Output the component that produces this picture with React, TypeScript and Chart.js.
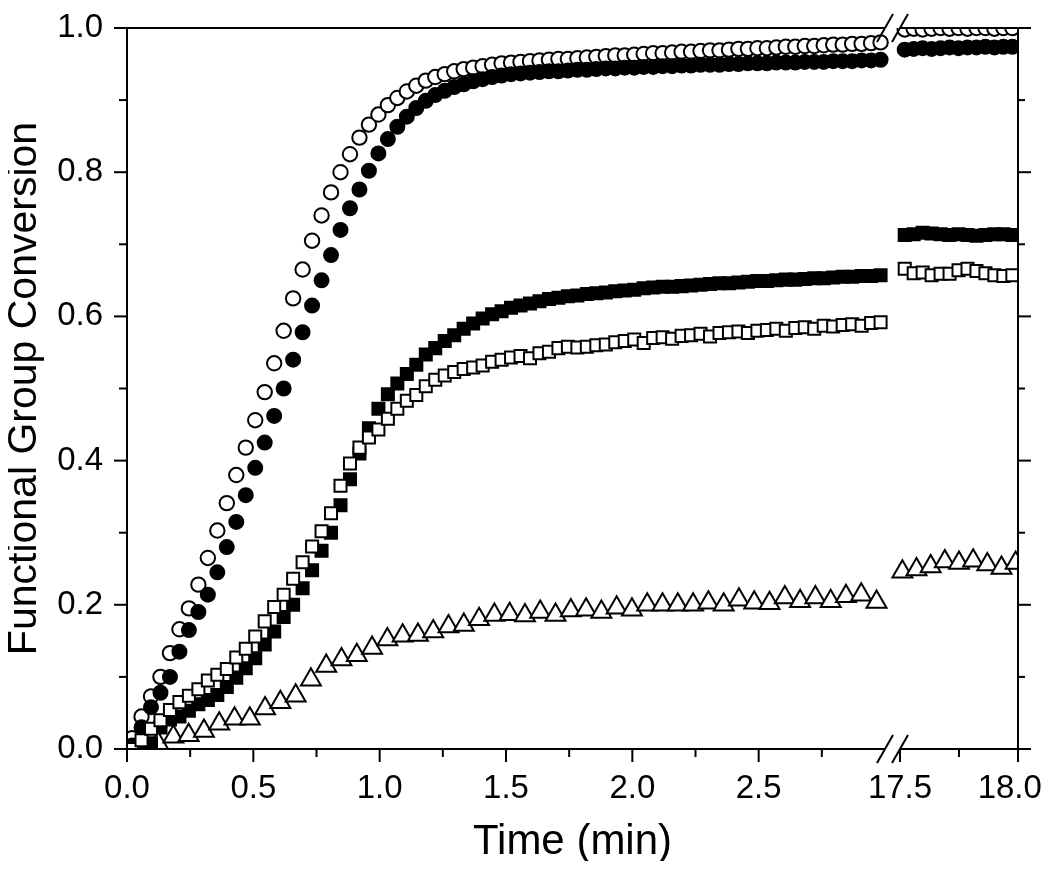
import React, { useEffect, useRef } from 'react';
import { Chart, LinearScale, registerables } from 'chart.js';

// ---- axis description (broken x axis) ----
const X_MIN = 0;
const X_BREAK_FROM = 3.0; // left segment ends here (min)
const X_BREAK_TO = 17.5; // right segment starts here (min)
const X_MAX = 18.0;
const X_MAJOR = [0, 0.5, 1.0, 1.5, 2.0, 2.5, 17.5, 18.0];
const X_MINOR = [0.25, 0.75, 1.25, 1.75, 2.25, 2.75, 17.75];
const Y_MAJOR = [0, 0.2, 0.4, 0.6, 0.8, 1.0];
const Y_MINOR = [0.1, 0.3, 0.5, 0.7, 0.9];

// ---- sampling (min) ----
const FAST_T0 = 0.02;
const FAST_DT = 0.0375; // circles / squares sampling interval
const TRI_T0 = 0.002;
const TRI_DT = 0.0605;
const LATE_T0 = 17.52;
const LATE_DT = 0.038;
const TRI_LATE_T0 = 17.51;
const TRI_LATE_DT = 0.06;

// ---- series values ----
const openCircles = [
  0.015, 0.045, 0.073, 0.100, 0.133, 0.166, 0.195, 0.228, 0.265, 0.303,
  0.341, 0.380, 0.418, 0.456, 0.495, 0.535, 0.580, 0.625, 0.665, 0.705,
  0.740, 0.772, 0.800, 0.825, 0.848, 0.866, 0.880, 0.893, 0.903, 0.912,
  0.920, 0.927, 0.932, 0.936, 0.940, 0.943, 0.945, 0.947, 0.949, 0.951,
  0.952, 0.953, 0.954, 0.955, 0.956, 0.957, 0.957, 0.958, 0.959, 0.960,
  0.961, 0.962, 0.962, 0.963, 0.964, 0.965, 0.965, 0.966, 0.967, 0.967,
  0.968, 0.969, 0.969, 0.970, 0.971, 0.971, 0.972, 0.972, 0.973, 0.974,
  0.974, 0.975, 0.975, 0.976, 0.977, 0.977, 0.978, 0.978, 0.979, 0.980,
];
const filledCircles = [
  0.005, 0.030, 0.058, 0.078, 0.100, 0.135, 0.165, 0.190, 0.214, 0.245,
  0.280, 0.315, 0.352, 0.390, 0.425, 0.462, 0.500, 0.540, 0.578, 0.615,
  0.650, 0.685, 0.720, 0.750, 0.776, 0.802, 0.826, 0.846, 0.863, 0.877,
  0.889, 0.899, 0.907, 0.913, 0.918, 0.922, 0.926, 0.929, 0.932, 0.934,
  0.936, 0.937, 0.938, 0.939, 0.940, 0.940, 0.941, 0.942, 0.942, 0.943,
  0.944, 0.944, 0.945, 0.945, 0.946, 0.946, 0.947, 0.947, 0.948, 0.948,
  0.949, 0.949, 0.949, 0.950, 0.950, 0.951, 0.951, 0.951, 0.952, 0.952,
  0.952, 0.953, 0.953, 0.953, 0.954, 0.954, 0.954, 0.955, 0.955, 0.956,
];
const filledSquares = [
  0.000, 0.002, 0.008, 0.030, 0.041, 0.045, 0.053, 0.062, 0.068, 0.075,
  0.086, 0.099, 0.112, 0.126, 0.145, 0.163, 0.183, 0.200, 0.223, 0.248,
  0.275, 0.300, 0.338, 0.374, 0.410, 0.445, 0.472, 0.492, 0.507, 0.520,
  0.533, 0.547, 0.556, 0.566, 0.574, 0.583, 0.590, 0.597, 0.603, 0.607,
  0.612, 0.615, 0.618, 0.621, 0.624, 0.626, 0.628, 0.629, 0.631, 0.632,
  0.633, 0.635, 0.636, 0.637, 0.639, 0.640, 0.641, 0.641, 0.642, 0.643,
  0.644, 0.645, 0.646, 0.646, 0.647, 0.648, 0.649, 0.649, 0.650, 0.651,
  0.651, 0.652, 0.653, 0.653, 0.654, 0.655, 0.655, 0.656, 0.656, 0.657,
];
const openSquares = [
  0.000, 0.012, 0.028, 0.040, 0.054, 0.065, 0.074, 0.083, 0.095, 0.103,
  0.111, 0.127, 0.139, 0.156, 0.177, 0.197, 0.214, 0.236, 0.259, 0.281,
  0.302, 0.327, 0.365, 0.396, 0.418, 0.432, 0.443, 0.458, 0.472, 0.483,
  0.491, 0.503, 0.512, 0.518, 0.523, 0.527, 0.529, 0.532, 0.537, 0.540,
  0.543, 0.545, 0.542, 0.549, 0.551, 0.556, 0.558, 0.557, 0.558, 0.560,
  0.561, 0.564, 0.566, 0.568, 0.563, 0.570, 0.571, 0.569, 0.573, 0.574,
  0.576, 0.572, 0.577, 0.578, 0.579, 0.577, 0.580, 0.581, 0.583, 0.580,
  0.584, 0.585, 0.583, 0.587, 0.586, 0.588, 0.589, 0.587, 0.591, 0.592,
];
const openTriangles = [
  0.000, 0.002, 0.008, 0.017, 0.019, 0.025, 0.035, 0.042, 0.042, 0.056,
  0.065, 0.074, 0.096, 0.115, 0.124, 0.130, 0.140, 0.152, 0.157, 0.158,
  0.163, 0.170, 0.172, 0.180, 0.186, 0.187, 0.185, 0.190, 0.186, 0.192,
  0.193, 0.190, 0.196, 0.193, 0.200, 0.200, 0.200, 0.200, 0.203, 0.200,
  0.207, 0.203, 0.202, 0.210, 0.205, 0.210, 0.205, 0.212, 0.214, 0.204,
];
// values after the axis break (17.5 - 18.0 min)
const openCirclesLate = [0.998, 0.999, 0.998, 0.999, 1.0, 0.999, 1.0, 0.999, 1.0, 1.0, 0.999, 1.0, 1.0];
const filledCirclesLate = [0.970, 0.971, 0.972, 0.971, 0.972, 0.973, 0.972, 0.973, 0.973, 0.974, 0.973, 0.974, 0.974];
const filledSquaresLate = [0.713, 0.714, 0.716, 0.715, 0.714, 0.713, 0.714, 0.713, 0.712, 0.713, 0.714, 0.714, 0.713];
const openSquaresLate = [0.666, 0.660, 0.661, 0.657, 0.659, 0.659, 0.664, 0.666, 0.663, 0.660, 0.657, 0.656, 0.657];
const openTrianglesLate = [0.246, 0.249, 0.253, 0.260, 0.258, 0.261, 0.256, 0.251, 0.258];

const FONT = '"Liberation Sans", Arial, Helvetica, sans-serif';

// fractions of the plot width given to the left segment and the gap
const LEFT_FRAC = 758 / 891;
const GAP_FRAC = 15 / 891;

class BrokenLinearScale extends LinearScale {
  static id = 'brokenLinear';
  static defaults = LinearScale.defaults;

  buildTicks() {
    return X_MAJOR.map((value) => ({ value }));
  }

  getPixelForValue(value: number) {
    const w = this.right - this.left;
    const leftW = w * LEFT_FRAC;
    const gap = w * GAP_FRAC;
    if (value <= X_BREAK_FROM) {
      return this.left + ((value - X_MIN) / (X_BREAK_FROM - X_MIN)) * leftW;
    }
    return this.left + leftW + gap + ((value - X_BREAK_TO) / (X_MAX - X_BREAK_TO)) * (w - leftW - gap);
  }

  getValueForPixel(pixel: number) {
    const w = this.right - this.left;
    const leftW = w * LEFT_FRAC;
    const gap = w * GAP_FRAC;
    const p = pixel - this.left;
    if (p <= leftW) return X_MIN + (p / leftW) * (X_BREAK_FROM - X_MIN);
    return X_BREAK_TO + ((p - leftW - gap) / (w - leftW - gap)) * (X_MAX - X_BREAK_TO);
  }
}

Chart.register(...registerables, BrokenLinearScale);

function sampleTimes(t0: number, dt: number, n: number) {
  const out: number[] = [];
  for (let i = 0; i < n; i++) out.push(t0 + i * dt);
  return out;
}

function points(early: number[], eT0: number, eDt: number, late: number[], lT0: number, lDt: number) {
  const te = sampleTimes(eT0, eDt, early.length);
  const tl = sampleTimes(lT0, lDt, late.length);
  return [
    ...early.map((y, i) => ({ x: te[i], y })),
    ...late.map((y, i) => ({ x: tl[i], y })),
  ];
}

const axesPlugin = {
  id: 'brokenAxes',
  afterDatasetsDraw(chart: any) {
    const { ctx, chartArea } = chart;
    const { left, right, top, bottom } = chartArea;
    const xs = chart.scales.x;
    const ys = chart.scales.y;
    const xb1 = xs.getPixelForValue(X_BREAK_FROM);
    const xb2 = xs.getPixelForValue(X_BREAK_TO);
    ctx.save();
    ctx.strokeStyle = '#000';
    ctx.lineWidth = 2;
    ctx.lineCap = 'butt';
    const line = (x1: number, y1: number, x2: number, y2: number) => {
      ctx.beginPath();
      ctx.moveTo(x1, y1);
      ctx.lineTo(x2, y2);
      ctx.stroke();
    };
    // frame
    line(left, top - 1, left, bottom + 1);
    line(right, top - 1, right, bottom + 1);
    line(left - 1, bottom, xb1, bottom);
    line(xb2, bottom, right + 1, bottom);
    line(left - 1, top, xb1, top);
    line(xb2, top, right + 1, top);
    // break marks
    for (const y of [top, bottom]) {
      for (const cx of [xb1, xb2]) line(cx - 8, y + 14, cx + 8, y - 14);
    }
    // y ticks (left & right, outward)
    for (const v of Y_MAJOR) {
      const y = ys.getPixelForValue(v);
      line(left - 13, y, left, y);
      line(right, y, right + 13, y);
    }
    for (const v of Y_MINOR) {
      const y = ys.getPixelForValue(v);
      line(left - 8, y, left, y);
      line(right, y, right + 7, y);
    }
    // x ticks (bottom, outward)
    for (const v of X_MAJOR) {
      const x = xs.getPixelForValue(v);
      line(x, bottom, x, bottom + 13);
    }
    for (const v of X_MINOR) {
      const x = xs.getPixelForValue(v);
      line(x, bottom, x, bottom + 8);
    }
    ctx.restore();
  },
};

export default function App() {
  const ref = useRef<HTMLCanvasElement | null>(null);
  useEffect(() => {
    if (!ref.current) return;
    const common = { clip: 0, showLine: false, pointHoverRadius: 0 };
    const chart = new Chart(ref.current, {
      type: 'scatter',
      data: {
        datasets: [
          {
            ...common,
            label: 'open squares',
            data: points(openSquares, FAST_T0, FAST_DT, openSquaresLate, LATE_T0, LATE_DT),
            pointStyle: 'rect',
            pointRadius: 8.5,
            pointBackgroundColor: '#fff',
            pointBorderColor: '#000',
            pointBorderWidth: 2,
            order: 1,
          },
          {
            ...common,
            label: 'filled squares',
            data: points(filledSquares, FAST_T0, FAST_DT, filledSquaresLate, LATE_T0, LATE_DT),
            pointStyle: 'rect',
            pointRadius: 8.5,
            pointBackgroundColor: '#000',
            pointBorderColor: '#000',
            pointBorderWidth: 2,
            order: 2,
          },
          {
            ...common,
            label: 'filled circles',
            data: points(filledCircles, FAST_T0, FAST_DT, filledCirclesLate, LATE_T0, LATE_DT),
            pointStyle: 'circle',
            pointRadius: 7.2,
            pointBackgroundColor: '#000',
            pointBorderColor: '#000',
            pointBorderWidth: 1.6,
            order: 3,
          },
          {
            ...common,
            label: 'open circles',
            data: points(openCircles, FAST_T0, FAST_DT, openCirclesLate, LATE_T0, LATE_DT),
            pointStyle: 'circle',
            pointRadius: 7.2,
            pointBackgroundColor: '#fff',
            pointBorderColor: '#000',
            pointBorderWidth: 2,
            order: 4,
          },
          {
            ...common,
            label: 'open triangles',
            data: points(openTriangles, TRI_T0, TRI_DT, openTrianglesLate, TRI_LATE_T0, TRI_LATE_DT),
            pointStyle: 'triangle',
            pointRadius: 11.5,
            pointBackgroundColor: '#fff',
            pointBorderColor: '#000',
            pointBorderWidth: 2,
            order: 5,
          },
        ],
      },
      options: {
        animation: false,
        responsive: false,
        events: [],
        layout: { padding: { left: 0, top: 20, right: 24, bottom: 0 } },
        plugins: { legend: { display: false }, tooltip: { enabled: false } },
        scales: {
          x: {
            type: 'brokenLinear' as any,
            min: X_MIN,
            max: X_MAX,
            grid: { display: false, drawTicks: true, tickLength: 20 },
            border: { display: false },
            ticks: {
              autoSkip: false,
              maxRotation: 0,
              padding: 0,
              color: '#000',
              font: { family: FONT, size: 33 },
              // the last label carries a trailing en space so it stays inside the page
              callback: (v: any) => Number(v).toFixed(1) + (Number(v) === X_MAX ? '\u2002' : ''),
            },
            title: {
              display: true,
              text: 'Time (min)',
              color: '#000',
              font: { family: FONT, size: 42, lineHeight: 0.9 },
              padding: 0,
            },
            afterFit: (s: any) => {
              s.height = 112;
              s.paddingLeft = 0;
              s.paddingRight = 0;
            },
          },
          y: {
            type: 'linear',
            min: 0,
            max: 1,
            afterBuildTicks: (s: any) => {
              s.ticks = Y_MAJOR.map((value) => ({ value }));
            },
            grid: { display: false, drawTicks: true, tickLength: 24 },
            border: { display: false },
            ticks: {
              padding: 0,
              color: '#000',
              font: { family: FONT, size: 33 },
              callback: (v: any) => Number(v).toFixed(1),
            },
            title: {
              display: true,
              text: 'Functional Group Conversion',
              color: '#000',
              font: { family: FONT, size: 41, lineHeight: 0.8 },
              padding: 0,
            },
            afterFit: (s: any) => {
              s.width = 119;
              s.paddingTop = 0;
              s.paddingBottom = 0;
            },
          },
        },
      } as any,
      plugins: [axesPlugin],
    });
    return () => chart.destroy();
  }, []);

  return (
    <div style={{ width: 1034, height: 853, position: 'relative', background: '#fff' }}>
      <canvas ref={ref} width={1034} height={853} style={{ display: 'block' }} />
    </div>
  );
}
